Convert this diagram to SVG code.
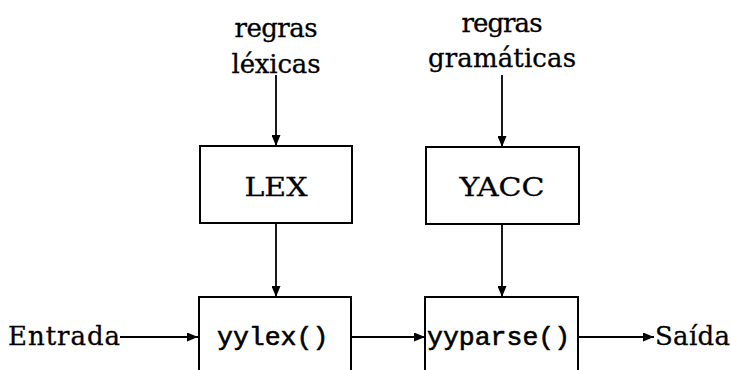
<svg xmlns="http://www.w3.org/2000/svg" width="731" height="370" viewBox="0 0 731 370">
<defs>
<marker id="ah" markerWidth="11" markerHeight="9" refX="11" refY="4.5" orient="auto" markerUnits="userSpaceOnUse">
<path d="M0,0 L11,4.5 L0,9 z" fill="#000"/>
</marker>
<style>
.box{fill:#fff;stroke:#000;stroke-width:2}
.ln{stroke:#000;stroke-width:1.8;fill:none;marker-end:url(#ah)}
.rm{font-family:"DejaVu Serif","Liberation Serif",serif;font-size:26px;fill:#000;stroke:#000;stroke-width:0.3}
.tt{font-family:"Liberation Mono","DejaVu Sans Mono",monospace;font-size:26.5px;fill:#000;stroke:#000;stroke-width:0.6}
</style>
</defs>
<rect width="731" height="370" fill="#fff"/>
<g id="connectors">
<line class="ln" x1="276" y1="75" x2="276" y2="146"/>
<line class="ln" x1="502" y1="75" x2="502" y2="147"/>
<line class="ln" x1="276" y1="223" x2="276" y2="297"/>
<line class="ln" x1="502" y1="224" x2="502" y2="297"/>
<line class="ln" x1="120" y1="337" x2="198" y2="337"/>
<line class="ln" x1="351" y1="337" x2="425" y2="337"/>
<line class="ln" x1="578" y1="337" x2="654" y2="337"/>
</g>
<g id="regras-lexicas">
<text class="rm" x="276" y="37" text-anchor="middle" textLength="83">regras</text>
<text class="rm" x="276" y="73" text-anchor="middle" textLength="89">léxicas</text>
</g>
<g id="regras-gramaticas">
<text class="rm" x="502" y="32" text-anchor="middle" textLength="81">regras</text>
<text class="rm" x="502" y="67" text-anchor="middle" textLength="148">gramáticas</text>
</g>
<g id="lex">
<rect class="box" x="200" y="146" width="152" height="77"/>
<text class="rm" x="276" y="196" text-anchor="middle" font-size="29" textLength="63" lengthAdjust="spacingAndGlyphs">LEX</text>
</g>
<g id="yacc">
<rect class="box" x="426" y="147" width="153" height="77"/>
<text class="rm" x="502" y="196" text-anchor="middle" font-size="29" textLength="85" lengthAdjust="spacingAndGlyphs">YACC</text>
</g>
<g id="yylex">
<rect class="box" x="199" y="297" width="152" height="80"/>
<text class="tt" x="217" y="345">yylex()</text>
</g>
<g id="yyparse">
<rect class="box" x="425" y="297" width="153" height="80"/>
<text class="tt" x="427" y="345">yyparse()</text>
</g>
<g id="entrada">
<text class="rm" x="8" y="345" textLength="112">Entrada</text>
</g>
<g id="saida">
<text class="rm" x="655" y="345" textLength="75">Saída</text>
</g>
</svg>
